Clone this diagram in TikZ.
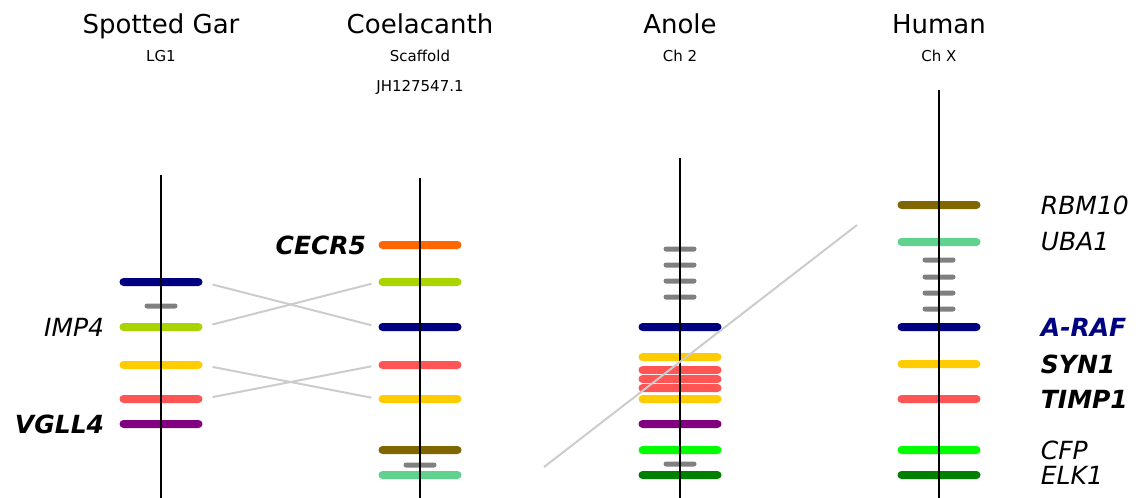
\documentclass[tikz,border=0pt]{standalone}
\usepackage{fontspec}
\setmainfont{DejaVu Sans}
\usetikzlibrary{positioning}
\definecolor{gNavy}{RGB}{0,0,128}
\definecolor{gLime}{RGB}{170,212,0}
\definecolor{gGold}{RGB}{255,204,0}
\definecolor{gSalmon}{RGB}{255,85,85}
\definecolor{gPurple}{RGB}{128,0,128}
\definecolor{gOrange}{RGB}{255,102,0}
\definecolor{gOlive}{RGB}{128,102,0}
\definecolor{gMint}{RGB}{95,211,141}
\definecolor{gGreen}{RGB}{0,255,0}
\definecolor{gDkGreen}{RGB}{0,128,0}
\definecolor{gGrey}{RGB}{128,128,128}
\definecolor{gLink}{RGB}{204,204,204}
\tikzset{
  gene/.style={rectangle, rounded corners=4pt, minimum width=83pt, minimum height=8pt, inner sep=0pt},
  grey gene/.style={rectangle, rounded corners=2.5pt, minimum width=33pt, minimum height=5pt, inner sep=0pt, fill=gGrey},
  chrom/.style={line width=2pt},
  link/.style={draw=gLink, line width=2pt},
  species/.style={anchor=base, font=\fontsize{26}{30}\selectfont},
  locus/.style={anchor=base, font=\fontsize{15}{18}\selectfont},
  genename/.style={inner sep=0pt, font=\fontsize{25}{30}\selectfont\itshape},
  genebold/.style={inner sep=0pt, font=\fontsize{25}{30}\selectfont\bfseries\itshape},
}

\begin{document}
\begin{tikzpicture}[x=1pt,y=-1pt]
\useasboundingbox (0,0) rectangle (1141,498);
% Titles
\node[species] (garTitle) at (161,33) {Spotted Gar};
\node[locus] (garLoc) at (161,61) {LG1};
\node[species] (coelTitle) at (420,33) {Coelacanth};
\node[locus] (coelLoc) at (420,61) {Scaffold};
\node[locus] (coelScaf) at (420,91) {JH127547.1};
\node[species] (anoleTitle) at (680,33) {Anole};
\node[locus] (anoleLoc) at (680,61) {Ch 2};
\node[species] (humTitle) at (939,33) {Human};
\node[locus] (humLoc) at (939,61) {Ch X};
% Spotted gar
\node[gene, fill=gNavy] (garNavy) at (161,282) {};
\node[grey gene] (garGrey) at (161,306) {};
\node[gene, fill=gLime] (garImp) at (161,327) {};
\node[gene, fill=gGold] (garGold) at (161,365) {};
\node[gene, fill=gSalmon] (garSalmon) at (161,399) {};
\node[gene, fill=gPurple] (garVgll) at (161,424) {};
\draw[chrom] (161,175) -- (161,498); % gar axis
% Coelacanth
\node[gene, fill=gOrange] (coelCecr) at (420,245) {};
\node[gene, fill=gLime] (coelLime) at (420,282) {};
\node[gene, fill=gNavy] (coelNavy) at (420,327) {};
\node[gene, fill=gSalmon] (coelSalmon) at (420,365) {};
\node[gene, fill=gGold] (coelGold) at (420,399) {};
\node[gene, fill=gOlive] (coelOlive) at (420,450) {};
\node[grey gene] (coelGrey) at (420,465) {};
\node[gene, fill=gMint] (coelMint) at (420,475) {};
\draw[chrom] (420,178) -- (420,498); % coelacanth axis
% Anole
\node[grey gene] (anoleGreyA) at (680,249) {};
\node[grey gene] (anoleGreyB) at (680,265) {};
\node[grey gene] (anoleGreyC) at (680,281) {};
\node[grey gene] (anoleGreyD) at (680,297) {};
\node[gene, fill=gNavy] (anoleNavy) at (680,327) {};
\node[gene, fill=gGold] (anoleGoldA) at (680,357) {};
\node[gene, fill=gSalmon] (anoleSalmonA) at (680,370) {};
\node[gene, fill=gSalmon] (anoleSalmonB) at (680,379) {};
\node[gene, fill=gSalmon] (anoleSalmonC) at (680,388) {};
\node[gene, fill=gGold] (anoleGoldB) at (680,399) {};
\node[gene, fill=gPurple] (anolePurple) at (680,424) {};
\node[gene, fill=gGreen] (anoleGreen) at (680,450) {};
\node[grey gene] (anoleGreyE) at (680,464) {};
\node[gene, fill=gDkGreen] (anoleDkGreen) at (680,475) {};
\draw[chrom] (680,158) -- (680,498); % anole axis
% Human
\node[gene, fill=gOlive] (humRbm) at (939,205) {};
\node[gene, fill=gMint] (humUba) at (939,242) {};
\node[grey gene] (humGreyA) at (939,260) {};
\node[grey gene] (humGreyB) at (939,277) {};
\node[grey gene] (humGreyC) at (939,293) {};
\node[grey gene] (humGreyD) at (939,309) {};
\node[gene, fill=gNavy] (humAraf) at (939,327) {};
\node[gene, fill=gGold] (humSyn) at (939,364) {};
\node[gene, fill=gSalmon] (humTimp) at (939,399) {};
\node[gene, fill=gGreen] (humCfp) at (939,450) {};
\node[gene, fill=gDkGreen] (humElk) at (939,475) {};
\draw[chrom] (939,90) -- (939,498); % human axis
% Links
\draw[link, shorten <=10pt, shorten >=7pt] (garNavy.east) -- (coelNavy.west);
\draw[link, shorten <=10pt, shorten >=7pt] (garImp.east) -- (coelLime.west);
\draw[link, shorten <=10pt, shorten >=7pt] (garGold.east) -- (coelGold.west);
\draw[link, shorten <=10pt, shorten >=7pt] (garSalmon.east) -- (coelSalmon.west);
\coordinate (strayA) at (544,467);
\coordinate (strayB) at (857,225);
\draw[link] (strayA) -- (strayB);
% Labels
\node[genename, left=15pt of garImp] (lblImp) {IMP4};
\node[genebold, left=15pt of garVgll] (lblVgll) {VGLL4};
\node[genebold, left=12pt of coelCecr] (lblCecr) {CECR5};
\node[genename, right=60pt of humRbm] (lblRbm) {RBM10};
\node[genename, right=60pt of humUba] (lblUba) {UBA1};
\node[genebold, text=gNavy, right=60pt of humAraf] (lblAraf) {A-RAF};
\node[genebold, right=60pt of humSyn] (lblSyn) {SYN1};
\node[genebold, right=60pt of humTimp] (lblTimp) {TIMP1};
\node[genename, right=60pt of humCfp] (lblCfp) {CFP};
\node[genename, right=60pt of humElk] (lblElk) {ELK1};
\end{tikzpicture}
\end{document}
